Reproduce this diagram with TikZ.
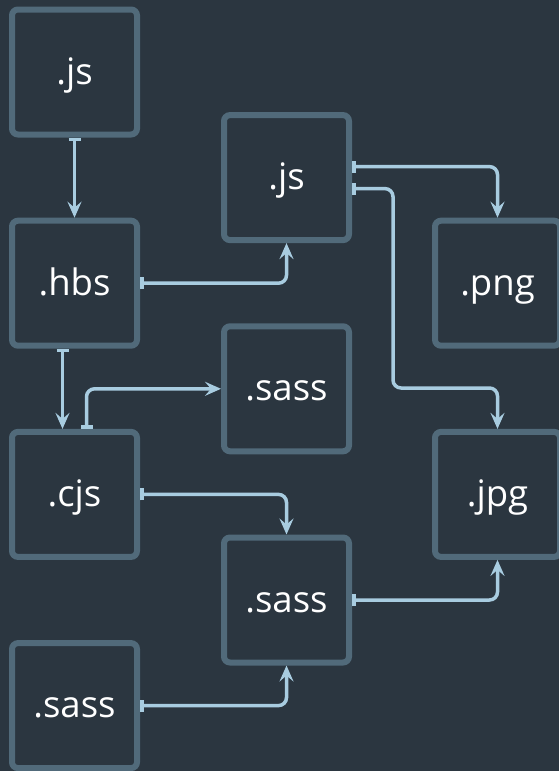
\documentclass[tikz,border=0pt]{standalone}
\usepackage{fontspec}
\setmainfont{Open Sans}
\usetikzlibrary{arrows.meta}
\definecolor{bg}{HTML}{2B3640}
\definecolor{bd}{HTML}{516A7A}
\definecolor{ln}{HTML}{A8CCE0}
\begin{document}
\begin{tikzpicture}[x=1pt,y=-1pt,
  filebox/.style={draw=bd, line width=6pt, fill=bg, rounded corners=6pt,
    minimum width=125pt, minimum height=125pt, inner sep=0pt,
    text=white, font=\fontsize{36.5}{40}\selectfont,
    text height=24pt, text depth=0pt},
  conn/.style={draw=ln, line width=3.5pt, rounded corners=8pt,
    {Bar[width=12pt]}-{Stealth[length=16pt,width=14pt,inset=6pt]}}]
\fill[bg] (0,0) rectangle (559,771);
\useasboundingbox (0,0) rectangle (559,771);
\node[filebox] (js1)   at (74.5,72)    {.js};
\node[filebox] (js2)   at (286.5,177.6) {.js};
\node[filebox] (hbs)   at (74.5,283.2) {.hbs};
\node[filebox] (png)   at (497.5,283.2) {.png};
\node[filebox] (sassA) at (286.5,388.8) {.sass};
\node[filebox] (cjs)   at (74.5,494.4) {.cjs};
\node[filebox] (jpg)   at (497.5,494.4) {.jpg};
\node[filebox] (sassB) at (286.5,600)  {.sass};
\node[filebox] (sassC) at (74.5,705.6) {.sass};
\coordinate (m1) at (393,388);
\draw[conn] (js1.south) -- (hbs.north);
\draw[conn] (hbs.east) -| (js2.south);
\draw[conn] ([yshift=11pt]js2.east) -| (png.north);
\draw[conn] ([yshift=-11pt]js2.east) -| (m1) -| (jpg.north);
\draw[conn] ([xshift=-12pt]hbs.south) -- ([xshift=-12pt]cjs.north);
\draw[conn] ([xshift=12pt]cjs.north) |- (sassA.west);
\draw[conn] (cjs.east) -| (sassB.north);
\draw[conn] (sassB.east) -| (jpg.south);
\draw[conn] (sassC.east) -| (sassB.south);
\end{tikzpicture}
\end{document}
